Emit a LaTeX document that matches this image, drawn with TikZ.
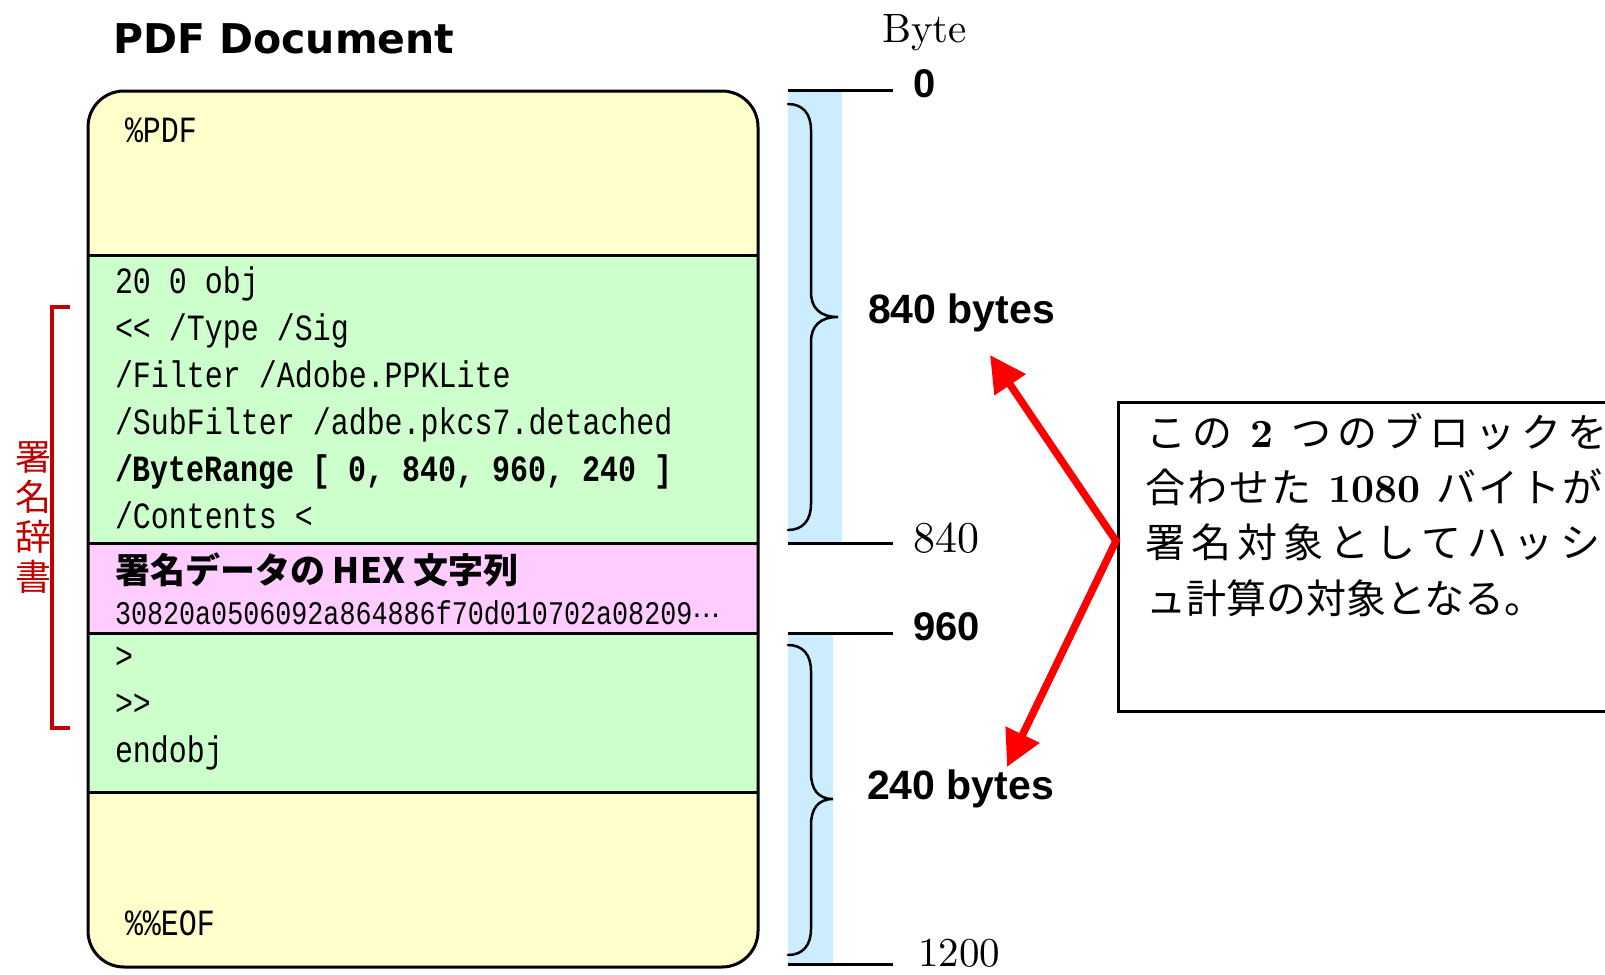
\documentclass[tikz,border=0pt]{standalone}
\usepackage{fontspec}
\usetikzlibrary{arrows.meta}
\newfontfamily\cjk{Noto Sans CJK JP}
\newfontfamily\monof[FakeStretch=0.81]{Liberation Mono}
\newfontfamily\hsans{Liberation Sans}
\newfontfamily\dvsans{DejaVu Sans}
\newfontfamily\lmten[BoldFont=lmroman10-bold.otf]{lmroman10-regular.otf}
\definecolor{docyellow}{HTML}{FFFFCC}
\definecolor{docgreen}{HTML}{CCFFCC}
\definecolor{docpink}{HTML}{FFCCFF}
\definecolor{bandblue}{HTML}{CCECFF}
\definecolor{sigred}{RGB}{192,0,0}
\newcommand\setfs[2]{\fontsize{#1}{#2}\selectfont}
\newcommand\lmb[1]{{\lmten\bfseries #1}}
\newcommand\widegap[1]{\hskip 0pt plus #1fil\relax}
\begin{document}
\begin{tikzpicture}[x=1pt,y=-1pt,
  every node/.style={inner sep=0pt,outer sep=0pt},
  monotext/.style={anchor=base west,font=\monof\setfs{37}{47}},
  tick/.style={line width=3pt},
  bracelines/.style={line width=2.5pt,line cap=round},
  boldsans/.style={anchor=base west,font=\hsans\bfseries\setfs{41}{48}},
  serifnum/.style={anchor=base west,font=\lmten\setfs{44}{50}},
  notetext/.style={anchor=base west,font=\cjk\setfs{40}{55}},
  redarrow/.style={draw=red,line width=7.5pt,line join=miter,
    {Triangle[length=36pt,width=36pt]}-{Triangle[length=36pt,width=36pt]}}]
\useasboundingbox (0,0) rectangle (1605,974);

% ---- document box ----
\fill[docyellow,rounded corners=36pt] (88,91) rectangle (758,967);
\fill[docgreen] (88,255) rectangle (758,543);
\fill[docpink] (88,543) rectangle (758,633);
\fill[docgreen] (88,633) rectangle (758,792);
\draw[line width=3pt] (88,255) -- (758,255);
\draw[line width=3pt] (88,543) -- (758,543);
\draw[line width=3pt] (88,633) -- (758,633);
\draw[line width=3pt] (88,792) -- (758,792);
\draw[line width=3pt,rounded corners=36pt] (88,91) rectangle (758,967);

\node[anchor=base west,font=\dvsans\bfseries\setfs{41}{48}] (title) at (113,53) {PDF Document};

\node[monotext] (pdfhdr) at (125,142) {\%PDF};
\node[monotext] (l1) at (115,293.5) {20 0 obj};
\node[monotext] (l2) at (115,340.5) {<\kern0pt< /Type /Sig};
\node[monotext] (l3) at (115,387.5) {/Filter /Adobe.PPKLite};
\node[monotext] (l4) at (115,434.5) {/SubFilter /adbe.pkcs7.detached};
\node[monotext,font=\monof\bfseries\setfs{37}{47}] (l5) at (115,481.5) {/ByteRange [ 0, 840, 960, 240 ]};
\node[monotext] (l6) at (115,528.5) {/Contents <};
\node[anchor=base west,font=\cjk\bfseries\setfs{35}{40}] (sighex) at (115,583) {署名データの HEX 文字列};
\node[anchor=base west,font=\monof\setfs{33}{40}] (hex) at (115,624) {30820a0506092a864886f70d010702a08209{\dvsans\setfs{28}{32}⋯}};
\node[monotext] (l7) at (115,668.5) {>};
\node[monotext] (l8) at (115,715.5) {>\kern0pt>};
\node[monotext] (l9) at (115,762.5) {endobj};
\node[monotext] (eof) at (125,935) {\%\%EOF};

% ---- signature dictionary bracket ----
\coordinate (bra) at (70,307);
\coordinate (brb) at (52,307);
\coordinate (brc) at (52,728);
\coordinate (brd) at (70,728);
\draw[sigred,line width=4pt,line join=miter] (bra) -- (brb) -- (brc) -- (brd);
\node[anchor=north,font=\cjk\setfs{36}{40},text=sigred,align=center] (sigdict) at (33,442) {署\\名\\辞\\書};

% ---- byte ruler ----
\fill[bandblue] (788,90) rectangle (842,543);
\fill[bandblue] (788,633) rectangle (833,964);
\coordinate (t0a) at (788,90);   \coordinate (t0b) at (893,90);
\coordinate (t1a) at (788,543);  \coordinate (t1b) at (893,543);
\coordinate (t2a) at (788,633);  \coordinate (t2b) at (893,633);
\coordinate (t3a) at (788,964);  \coordinate (t3b) at (893,964);
\draw[tick] (t0a) -- (t0b);
\draw[tick] (t1a) -- (t1b);
\draw[tick] (t2a) -- (t2b);
\draw[tick] (t3a) -- (t3b);

\draw[bracelines] (788,104) .. controls (803,104) and (811,114) .. (811,130)
  -- (811,292) .. controls (811,308) and (820,317) .. (838,317)
  .. controls (820,317) and (811,326) .. (811,342)
  -- (811,504) .. controls (811,520) and (803,530) .. (788,530);
\draw[bracelines] (788,645) .. controls (803,645) and (811,655) .. (811,671)
  -- (811,773) .. controls (811,789) and (818,799) .. (833,799)
  .. controls (818,799) and (811,809) .. (811,825)
  -- (811,929) .. controls (811,945) and (803,955) .. (788,955);

\node[anchor=base west,font=\lmten\setfs{41}{48}] (byte) at (882,42.5) {Byte};
\node[boldsans,font=\hsans\bfseries\setfs{40}{48}] (b0) at (913,97) {0};
\node[serifnum] (b840) at (913,552) {840};
\node[boldsans,font=\hsans\bfseries\setfs{40}{48}] (b960) at (913,640) {960};
\node[serifnum,font=\lmten\setfs{41}{46}] (b1200) at (918,966) {1200};
\node[boldsans] (len1) at (868,323) {840 bytes};
\node[boldsans] (len2) at (867,799) {240 bytes};

% ---- note box ----
\draw[line width=3pt] (1118,402) rectangle (1625,711);
\node[notetext] (n1) at (1146,447.5) {\hbox to 461pt{こ\hfil の\widegap{3}\lmb{2}\widegap{3}つ\hfil の\hfil ブ\hfil ロ\hfil ッ\hfil ク\hfil を}};
\node[notetext] (n2) at (1145,502.5) {\hbox to 458pt{合\hfil わ\hfil せ\hfil た\widegap{8}\lmb{1080}\widegap{8}バ\hfil イ\hfil ト\hfil が}};
\node[notetext] (n3) at (1145,557.5) {\hbox to 455pt{署\hfil 名\hfil 対\hfil 象\hfil と\hfil し\hfil て\hfil ハ\hfil ッ\hfil シ}};
\node[notetext] (n4) at (1146,613) {ュ計算の対象となる。};

% ---- red arrows ----
\coordinate (aorg) at (1116,541);
\coordinate (atip1) at (990,355);
\coordinate (atip2) at (1007,767);
\draw[redarrow] (atip1) -- (aorg) -- (atip2);
\end{tikzpicture}
\end{document}
